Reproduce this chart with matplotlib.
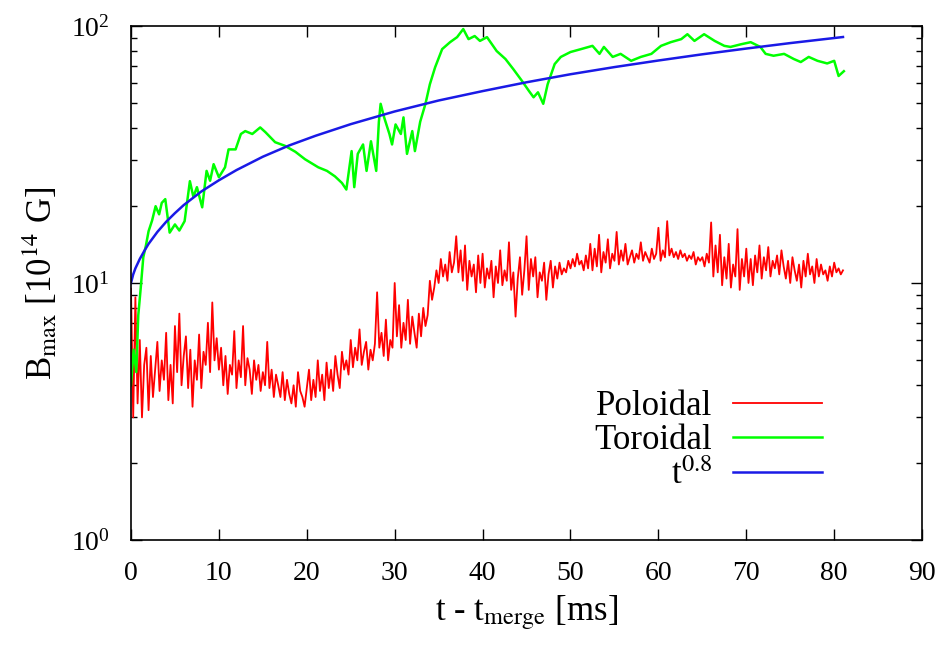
import numpy as np
import matplotlib
matplotlib.use("Agg")
import matplotlib.pyplot as plt

plt.rcParams['font.family'] = ['Liberation Serif', 'DejaVu Serif']
plt.rcParams['mathtext.fontset'] = 'stix'

# Poloidal B_max [1e14 G], sampled every 0.25 ms from t=0 to t=81
poloidal = [
    9.5, 3.0, 8.8, 3.4, 6.0, 3.0, 4.8, 5.6, 3.2, 5.2,
    3.6, 4.6, 5.9, 3.8, 5.0, 4.2, 6.4, 3.5, 4.8, 3.4,
    6.8, 4.5, 7.6, 4.0, 5.2, 6.2, 3.9, 5.5, 3.3, 5.0,
    4.2, 6.3, 3.9, 5.4, 4.8, 7.0, 4.5, 8.4, 5.0, 6.1,
    4.6, 5.6, 4.0, 5.2, 3.7, 4.8, 4.4, 6.5, 3.9, 5.0,
    4.3, 6.8, 4.0, 5.1, 4.6, 3.7, 5.0, 4.2, 4.8, 3.8,
    4.5, 4.0, 5.9, 3.9, 4.6, 3.6, 4.4, 4.0, 3.6, 4.5,
    3.5, 4.2, 3.7, 3.4, 4.0, 3.3, 4.5, 3.8, 3.6, 3.3,
    3.9, 4.6, 3.5, 4.2, 3.6, 5.0, 3.8, 4.4, 3.5, 4.9,
    3.9, 4.6, 3.8, 5.2, 4.4, 3.9, 5.4, 4.6, 5.0, 4.4,
    6.0, 4.7, 5.6, 5.0, 6.6, 4.8, 5.4, 5.9, 4.6, 5.5,
    5.0, 5.8, 9.2, 5.6, 6.4, 5.2, 7.2, 5.0, 6.0, 5.6,
    10.0, 6.2, 8.2, 5.6, 7.0, 6.0, 8.6, 5.8, 7.4, 6.4,
    5.6, 7.6, 6.2, 8.0, 6.8, 7.5, 10.2, 8.6, 9.6, 11.2,
    10.0, 12.4, 10.6, 11.8, 10.2, 13.2, 11.0, 12.0, 15.2, 11.0,
    13.4, 10.2, 14.0, 9.4, 12.2, 10.6, 11.8, 9.2, 12.8, 10.0,
    13.0, 9.6, 11.4, 10.4, 12.2, 8.8, 11.6, 10.0, 13.4, 9.8,
    11.2, 10.2, 14.4, 9.4, 11.0, 7.4, 10.4, 12.6, 9.0, 11.2,
    15.2, 9.4, 12.4, 10.6, 12.6, 8.8, 11.0, 10.2, 12.0, 8.6,
    10.8, 12.2, 9.6, 11.6, 10.4, 12.0, 10.8, 11.4, 11.0, 12.2,
    11.4, 12.4, 11.6, 13.0, 11.8, 12.2, 11.2, 12.8, 11.4, 14.2,
    11.2, 13.6, 11.6, 15.4, 11.0, 13.2, 12.0, 14.8, 11.4, 13.0,
    12.2, 15.8, 11.8, 13.4, 12.2, 14.2, 11.8, 12.6, 13.4, 12.0,
    13.0, 12.4, 14.4, 12.2, 13.2, 12.6, 12.0, 13.6, 12.4, 13.0,
    16.4, 12.2, 13.4, 12.6, 17.4, 12.8, 13.6, 12.6, 13.2, 12.4,
    13.4, 12.6, 13.0, 12.2, 12.8, 12.4, 13.2, 11.8, 12.6, 12.2,
    12.6, 11.6, 13.0, 12.0, 17.2, 10.6, 14.0, 11.0, 15.4, 9.8,
    12.6, 10.4, 14.2, 9.6, 11.8, 10.6, 16.2, 9.4, 12.4, 10.6,
    13.6, 10.0, 12.4, 9.8, 12.8, 11.0, 14.0, 10.4, 12.6, 11.2,
    13.8, 10.6, 12.2, 11.4, 12.8, 10.8, 13.4, 11.6, 10.4, 12.2,
    10.0, 12.6, 11.2, 10.2, 11.8, 9.6, 12.2, 10.6, 13.0, 10.8,
    11.6, 10.0, 12.4, 10.6, 11.8, 10.8, 11.2, 10.2, 11.6, 10.6,
    12.0, 11.0, 11.4, 10.8, 11.2,
]
t_pol = np.linspace(0, 81, len(poloidal))

# Toroidal B_max [1e14 G]
t_tor = [
    0, 0.3, 0.6, 0.83, 1.1, 1.4, 1.7, 2.0, 2.4, 2.8,
    3.2, 3.5, 3.9, 4.4, 5.0, 5.5, 6.1, 6.7, 7.1, 7.5,
    8.1, 8.6, 9.0, 9.4, 10.0, 10.7, 11.1, 11.9, 12.5, 13.0,
    13.8, 14.7, 15.3, 16.4, 17.5, 18.7, 19.8, 21.3, 22.3, 23.2,
    24.0, 24.5, 25.1, 25.4, 25.8, 26.4, 26.8, 27.3, 27.9, 28.2,
    28.4, 28.8, 29.4, 29.7, 30.1, 30.7, 31.0, 31.4, 32.0, 32.3,
    32.9, 33.5, 34.0, 34.6, 35.4, 36.3, 37.1, 37.8, 38.4, 39.1,
    39.7, 40.5, 41.6, 42.6, 43.5, 44.5, 45.3, 45.8, 46.3, 46.9,
    47.4, 48.2, 48.9, 50.0, 51.2, 52.5, 53.3, 53.8, 54.8, 55.7,
    56.9, 58.0, 59.2, 60.3, 61.4, 62.6, 63.3, 64.1, 65.2, 66.4,
    67.5, 68.2, 69.4, 70.5, 71.6, 72.2, 73.1, 74.3, 75.4, 76.2,
    77.1, 78.1, 79.2, 80.0, 80.5, 81.1,
]
toroidal = [
    4.0, 5.5, 4.5, 7.5, 9.5, 12.6, 14.0, 15.9, 17.5, 19.9,
    18.5, 20.5, 21.2, 15.7, 16.9, 16.0, 17.4, 24.9, 21.6, 23.6,
    19.7, 27.3, 25.0, 29.0, 25.8, 28.2, 33.1, 33.1, 38.0, 39.0,
    38.0, 40.3, 38.6, 35.3, 34.2, 32.4, 30.3, 28.2, 27.3, 26.0,
    24.5, 23.1, 32.6, 23.6, 31.8, 34.6, 27.3, 35.6, 27.3, 42.4,
    49.8, 44.1, 38.0, 34.6, 41.4, 38.0, 44.1, 31.8, 39.0, 32.6,
    42.4, 49.8, 59.3, 69.1, 81.3, 86.5, 90.5, 97.3, 88.9, 91.4,
    87.5, 90.5, 79.9, 74.4, 67.9, 61.0, 55.7, 52.8, 55.2, 49.8,
    59.3, 71.1, 75.8, 79.2, 81.3, 83.7, 77.9, 82.9, 75.8, 77.9,
    73.2, 75.8, 77.9, 83.7, 86.5, 88.9, 92.9, 87.5, 92.9, 87.5,
    83.7, 82.9, 84.9, 86.5, 82.9, 77.9, 76.6, 77.9, 74.4, 72.4,
    75.8, 73.2, 71.5, 73.2, 63.9, 66.7,
]

# t^0.8 fit curve
t_fit = [0, 0.25, 0.5, 1, 1.5, 2, 3, 4, 5, 6, 8, 10, 12, 15, 18, 21,
         25, 30, 35, 40, 45, 50, 55, 60, 65, 70, 75, 81]
fit = [10.0, 10.8, 11.4, 12.4, 13.3, 14.2, 15.8, 17.3, 18.7, 20.1, 22.7,
       25.1, 27.5, 31.0, 34.3, 37.4, 41.5, 46.5, 51.3, 55.8, 60.4, 64.9,
       69.2, 73.4, 77.6, 81.7, 85.8, 90.6]

fig = plt.figure(figsize=(9.39, 6.45), dpi=100)
ax = fig.add_axes([0.1395, 0.1628, 0.8425, 0.7969])

ax.plot(t_pol, poloidal, color='#ff0000', lw=1.3, label='Poloidal')
ax.plot(t_tor, toroidal, color='#00ff00', lw=1.8, label='Toroidal')
ax.plot(t_fit, fit, color='#1a1ae6', lw=1.8, label='t$^{0.8}$')

ax.set_yscale('log')
ax.set_xlim(0, 90)
ax.set_ylim(1, 100)
ax.set_xticks(range(0, 91, 10))
ax.tick_params(which='both', direction='in', top=True, right=True, labelsize=20)
ax.tick_params(which='major', length=8, width=1)
ax.tick_params(which='minor', length=4, width=1)
ax.tick_params(axis='x', pad=15)
ax.tick_params(axis='y', pad=15)
for s in ax.spines.values():
    s.set_linewidth(1.2)

ax.set_xlabel(r't - t$_{\rm merge}$ [ms]', fontsize=25, labelpad=6)
ax.set_ylabel(r'B$_{\rm max}$ [10$^{14}$ G]', fontsize=25, labelpad=8)

ax.legend(loc='center right', bbox_to_anchor=(0.8736, 0.1926), frameon=False,
          markerfirst=False, fontsize=25, handlelength=2.56,
          labelspacing=0.04, handletextpad=0.6, borderpad=0,
          borderaxespad=0)

fig.savefig('out.png', dpi=100)
